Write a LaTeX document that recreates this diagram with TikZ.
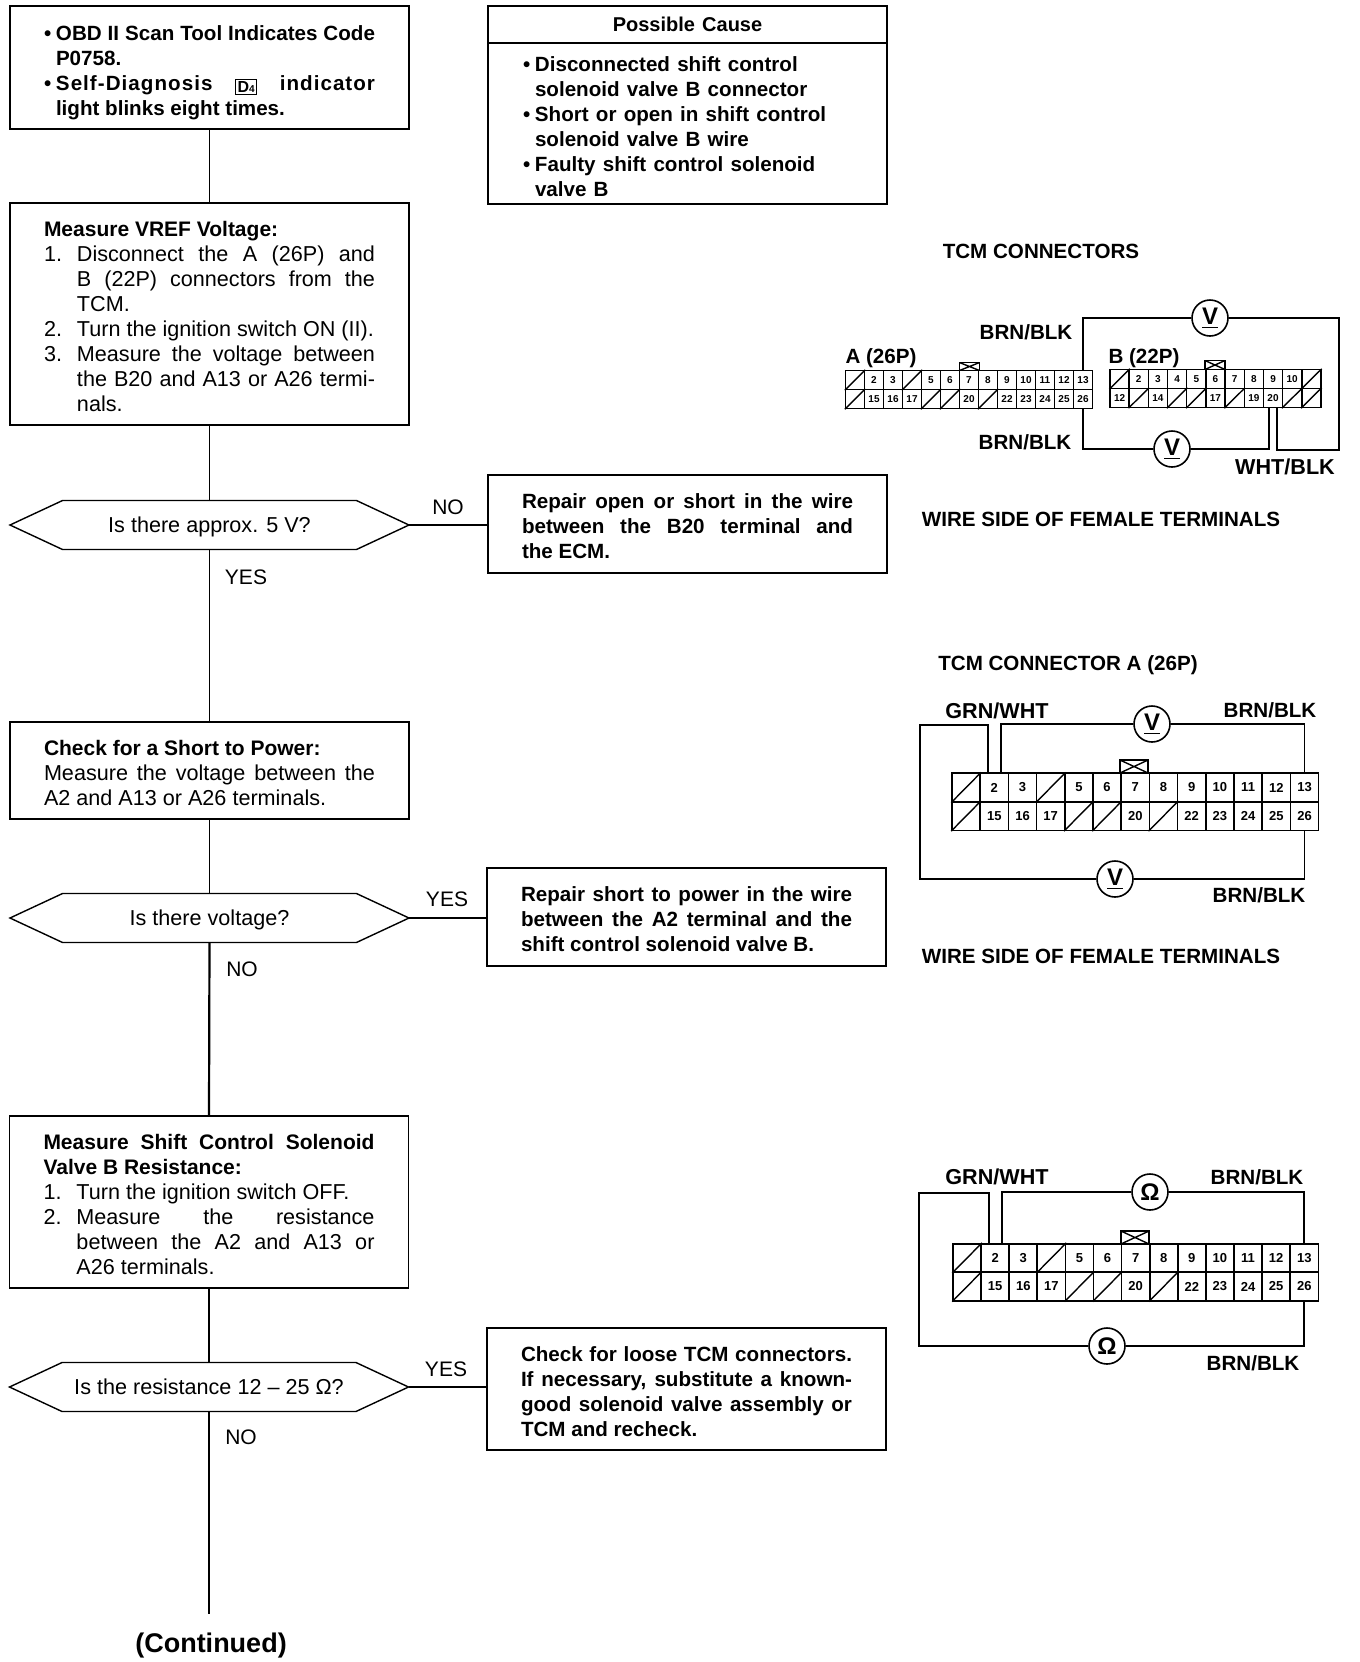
\documentclass[tikz,border=0pt]{standalone}
\usepackage{fontspec}
\setmainfont{Liberation Sans}
\usetikzlibrary{shapes.symbols, positioning, calc}
\newcommand{\bftext}{\fontsize{10.3}{12.5}\selectfont\bfseries}
\newcommand{\bfhead}{\fontsize{10.5}{12.5}\selectfont\bfseries}
\newcommand{\boxnudge}{\endgraf\kern -2.2pt}
\newcommand{\boxlift}{\endgraf\kern 2.2pt}
\newcommand{\numitem}[2]{\par\noindent\hangindent=16.5pt\hangafter=1\hbox to 16.5pt{#1\hfil}#2\par}
\newcommand{\dotitem}[1]{\par\noindent\hangindent=6pt\hangafter=1\hbox to 6pt{\textbullet\hfil}#1\par}
\newcommand{\dfour}{\raisebox{-1.2pt}{\setlength{\fboxsep}{0.7pt}\setlength{\fboxrule}{0.5pt}\fbox{\fontsize{8}{8}\selectfont D\fontsize{5}{5}\selectfont 4}}}
\newcommand{\tcmrow}[6]{\foreach \lab [count=\n] in {#6} \node[#1] (#2\n) at ({#3+(\n-0.5)*#4},#5) {\lab};}
\begin{document}
\begin{tikzpicture}[
  x=0.5pt, y=-0.5pt,
  every node/.style={font=\fontsize{10.8}{12.5}\selectfont},
  basebox/.style={rectangle, draw=black, line width=0.8pt, anchor=north west, align=justify, outer sep=0pt,
                  text width=165.5pt, inner xsep=17pt, inner ysep=0pt},
  flowbox/.style={basebox, execute at end node=\boxnudge},
  causebox/.style={basebox, align=left},
  decide/.style={signal, signal to=west and east, draw=black, line width=0.7pt, inner sep=0pt, outer sep=0pt,
                 minimum width=199.5pt, minimum height=24.5pt, signal pointer angle=50,
                 text height=9.7pt, text depth=2pt},
  flow/.style={line width=0.7pt},
  flowb/.style={line width=1.1pt},
  lab/.style={inner sep=0pt, font=\fontsize{10.5}{12}\selectfont},
  wirelab/.style={inner sep=0pt, font=\fontsize{10.3}{12}\selectfont\bfseries},
  wire/.style={line width=0.9pt},
  meter/.style={circle, draw=black, line width=0.8pt, fill=white, inner sep=0pt, minimum size=18pt,
                font=\fontsize{12}{12}\selectfont\bfseries},
  smallcell/.style={rectangle, draw=black, line width=0.7pt, inner sep=0pt, minimum width=#1,
                    minimum height=9.5pt, font=\fontsize{5}{5}\selectfont\bfseries},
  bigcell/.style={rectangle, draw=black, line width=0.8pt, inner sep=0pt, minimum width=14.1pt,
                  minimum height=14.3pt, font=\fontsize{6.5}{6.5}\selectfont\bfseries},
  tab/.style={rectangle, draw=black, line width=0.7pt, inner sep=0pt,
              path picture={\draw (path picture bounding box.south west) -- (path picture bounding box.north east)
                (path picture bounding box.north west) -- (path picture bounding box.south east);}}
]
  \useasboundingbox (0,0) rectangle (1360,1662);

  \node[basebox, minimum height=61.5pt] (start) at (10,6) {\bftext
    \dotitem{OBD II Scan Tool Indicates Code\linebreak P0758.}
    \dotitem{{\addfontfeature{LetterSpace=5}Self-Diagnosis} \dfour{} {\addfontfeature{LetterSpace=5}indicator}\linebreak light blinks eight times.}};
  \node[causebox, minimum height=18.5pt, align=center, execute at end node=\boxnudge] (causehead) at (488,6) {\fontsize{10}{12.5}\selectfont\bfseries Possible Cause};
  \node[causebox, minimum height=80.5pt, inner xsep=17.5pt, text width=164.5pt, execute at end node=\boxlift] (causebody) at (causehead.south west) {\bftext
    \dotitem{Disconnected shift control\linebreak solenoid valve B connector}
    \dotitem{Short or open in shift control\linebreak solenoid valve B wire}
    \dotitem{Faulty shift control solenoid\linebreak valve B}};

  \node[flowbox, minimum height=111pt] (vref) at (10,203) {{\bfhead Measure VREF Voltage:}
    \numitem{1.}{Disconnect the A (26P) and\linebreak B (22P) connectors from the\linebreak TCM.}
    \numitem{2.}{Turn the ignition switch ON (II).}
    \numitem{3.}{Measure the voltage between\linebreak the B20 and A13 or A26 termi-\linebreak nals.}};
  \node[decide] (ask5v) at (209.5,525) {Is there approx. 5 V?};
  \node[flowbox, minimum height=49pt] (repopen) at (488,475) {\bftext Repair open or short in the wire\linebreak
    between the B20 terminal and\linebreak the ECM.};

  \node[flowbox, minimum height=48.5pt] (shortchk) at (10,722) {{\bfhead Check for a Short to Power:}\\
    Measure the voltage between the\linebreak A2 and A13 or A26 terminals.};
  \node[decide] (askvolt) at (209.5,918) {Is there voltage?};
  \node[flowbox, minimum height=49pt] (repshort) at (487,868) {\bftext Repair short to power in the wire\linebreak
    between the A2 terminal and the\linebreak shift control solenoid valve B.};

  \node[flowbox, minimum height=86pt] (solres) at (9.5,1116) {{\bfhead Measure Shift Control Solenoid\linebreak Valve B Resistance:}
    \numitem{1.}{Turn the ignition switch OFF.}
    \numitem{2.}{Measure the resistance\linebreak between the A2 and A13 or\linebreak A26 terminals.}};
  \node[decide] (askres) at (209,1387) {Is the resistance 12 -- 25 Ω?};
  \node[flowbox, minimum height=61pt] (loose) at (487,1328) {\bftext Check for loose TCM connectors.\linebreak
    If necessary, substitute a known-\linebreak good solenoid valve assembly or\linebreak TCM and recheck.};

  \coordinate (trunkend) at (209,1614);
  \node[lab, font=\fontsize{13.5}{13.5}\selectfont\bfseries] (cont) at (211,1645) {(Continued)};

  \draw[flow] (start.south) -- (vref.north);
  \draw[flow] (vref.south) -- (ask5v.north);
  \draw[flow] (ask5v.south) -- (shortchk.north);
  \draw[flow] (shortchk.south) -- (askvolt.north);
  \draw[flowb] (askvolt.south) -- (solres.north);
  \draw[flow] (solres.south) -- (askres.north);
  \draw[flow] (askres.south) -- (trunkend);
  \draw[flow] (ask5v.east) -- (ask5v.east -| repopen.west);
  \draw[flowb] (askvolt.east) -- (askvolt.east -| repshort.west);
  \draw[flow] (askres.east) -- (askres.east -| loose.west);

  \node[lab] (no1) at (448,507) {NO};
  \node[lab] (yes1) at (246,577) {YES};
  \node[lab] (yes2) at (447,899) {YES};
  \node[lab] (no2) at (242,969) {NO};
  \node[lab] (yes3) at (446,1369) {YES};
  \node[lab] (no3) at (241,1437) {NO};

  \node[wirelab] (title1) at (1041,251) {TCM CONNECTORS};
  \node[wirelab] (side1) at (1101,519) {WIRE SIDE OF FEMALE TERMINALS};
  \node[wirelab] (title2) at (1068,665) {TCM CONNECTOR A (26P)};
  \node[wirelab] (side2) at (1101,956) {WIRE SIDE OF FEMALE TERMINALS};

  \tcmrow{smallcell=9.5pt}{aa}{845.5}{19}{380}{{},2,3,{},5,6,7,8,9,10,11,12,13}
  \tcmrow{smallcell=9.5pt}{ab}{845.5}{19}{399}{{},15,16,17,{},{},20,{},22,23,24,25,26}
  \tcmrow{smallcell=9.6pt}{ba}{1110}{19.18}{379}{{},2,3,4,5,6,7,8,9,10,{}}
  \tcmrow{smallcell=9.6pt}{bb}{1110}{19.18}{398}{12,{},14,{},{},17,{},19,20,{},{}}
  \foreach \n in {1,4} \draw[flow] (aa\n.south west) -- (aa\n.north east);
  \foreach \n in {1,5,6,8} \draw[flow] (ab\n.south west) -- (ab\n.north east);
  \foreach \n in {1,11} \draw[flow] (ba\n.south west) -- (ba\n.north east);
  \foreach \n in {2,4,5,7,10,11} \draw[flow] (bb\n.south west) -- (bb\n.north east);
  \node[tab, minimum width=10pt, minimum height=4pt] (atab) at (969.5,366.5) {};
  \node[tab, minimum width=10pt, minimum height=4.5pt] (btab) at (1215,365) {};

  \node[meter] (vtop) at (1210,318) {\underline{V}};
  \node[meter] (vbot) at (1172,449) {\underline{V}};
  \coordinate (wcorner) at (1339,450);
  \draw[wire] (aa13.north) |- (vtop.west);
  \draw[wire] (vtop.east) -| (wcorner) -| ([xshift=2pt]bb9.south);
  \draw[wire] (ab13.south) |- (vbot.west);
  \draw[wire] (vbot.east) -| ([xshift=-2pt]bb9.south);
  \node[wirelab] (brn1) at (1026,332) {BRN/BLK};
  \node[wirelab] (brn2) at (1025,442) {BRN/BLK};
  \node[wirelab, font=\fontsize{10.8}{12}\selectfont\bfseries] (wht1) at (1285,467) {WHT/BLK};
  \node[wirelab] (aname) at (881,358) {A (26P)};
  \node[wirelab] (bname) at (1144,358) {B (22P)};

  \tcmrow{bigcell}{ca}{952}{28.2}{787.5}{{},2,3,{},5,6,7,8,9,10,11,12,13}
  \tcmrow{bigcell}{cb}{952}{28.2}{816}{{},15,16,17,{},{},20,{},22,23,24,25,26}
  \foreach \n in {1,4} \draw[flow] (ca\n.south west) -- (ca\n.north east);
  \foreach \n in {1,5,6,8} \draw[flow] (cb\n.south west) -- (cb\n.north east);
  \node[tab, minimum width=14.1pt, minimum height=6.5pt] (ctab) at (1134,766.5) {};
  \node[meter] (vupper) at (1152,724) {\underline{V}};
  \node[meter] (vlower) at (1115,879) {\underline{V}};
  \coordinate (ccorner) at (920,725);
  \draw[wire] ([xshift=3.25pt]ca2.north) |- (vupper.west);
  \draw[wire] (vupper.east) -| (ca13.north);
  \draw[wire] ([xshift=-3.25pt]ca2.north) |- (ccorner) |- (vlower.west);
  \draw[wire] (vlower.east) -| (cb13.south);
  \node[wirelab, font=\fontsize{10.8}{12}\selectfont\bfseries] (grn1) at (997,711) {GRN/WHT};
  \node[wirelab] (brn3) at (1270,710) {BRN/BLK};
  \node[wirelab] (brn4) at (1259,895) {BRN/BLK};

  \tcmrow{bigcell}{da}{953}{28.1}{1258}{{},2,3,{},5,6,7,8,9,10,11,12,13}
  \tcmrow{bigcell}{db}{953}{28.1}{1286.5}{{},15,16,17,{},{},20,{},22,23,24,25,26}
  \foreach \n in {1,4} \draw[flow] (da\n.south west) -- (da\n.north east);
  \foreach \n in {1,5,6,8} \draw[flow] (db\n.south west) -- (db\n.north east);
  \node[tab, minimum width=14.1pt, minimum height=6.5pt] (dtab) at (1135,1237.5) {};
  \node[meter] (oupper) at (1150,1192) {Ω};
  \node[meter] (olower) at (1107,1346) {Ω};
  \coordinate (dcorner) at (919,1193);
  \draw[wire] ([xshift=3.25pt]da2.north) |- (oupper.west);
  \draw[wire] (oupper.east) -| (da13.north);
  \draw[wire] ([xshift=-3.25pt]da2.north) |- (dcorner) |- (olower.west);
  \draw[wire] (olower.east) -| (db13.south);
  \node[wirelab, font=\fontsize{10.8}{12}\selectfont\bfseries] (grn2) at (997,1177) {GRN/WHT};
  \node[wirelab] (brn5) at (1257,1177) {BRN/BLK};
  \node[wirelab] (brn6) at (1253,1363) {BRN/BLK};
\end{tikzpicture}
\end{document}
